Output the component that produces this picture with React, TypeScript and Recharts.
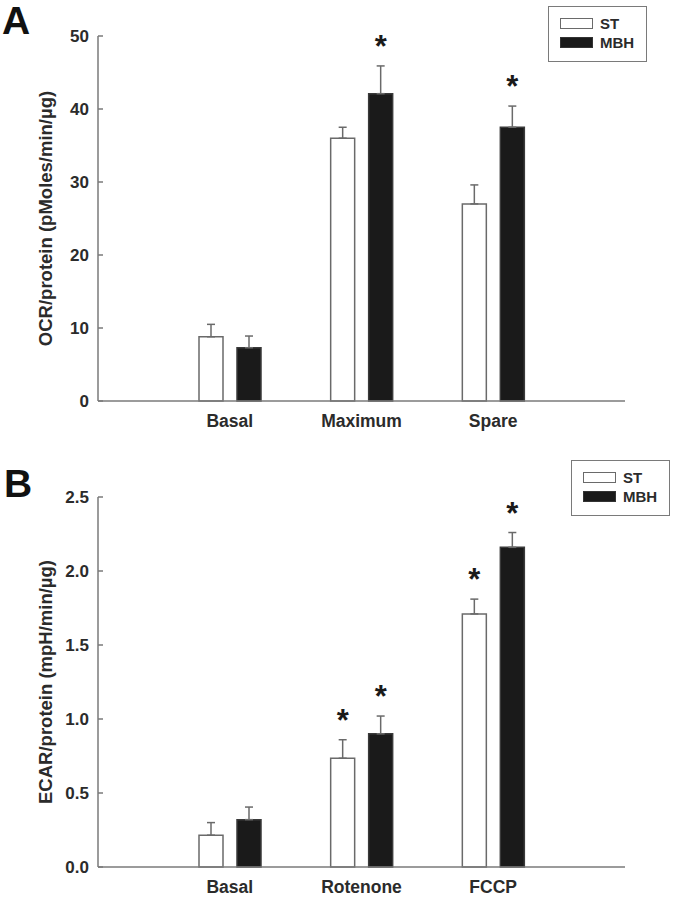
import React from "react";
import {
  BarChart,
  Bar,
  XAxis,
  YAxis,
  ErrorBar,
  LabelList,
  Legend,
} from "recharts";

// panel A – oxygen consumption
const categoriesA = ["Basal", "Maximum", "Spare"];
const stA = [8.8, 36.0, 27.0];
const stErrA = [1.7, 1.5, 2.6];
const mbhA = [7.3, 42.1, 37.5];
const mbhErrA = [1.6, 3.8, 2.9];
const sigStA = [false, false, false];
const sigMbhA = [false, true, true];
const ticksA = [0, 10, 20, 30, 40, 50];

// panel B – extracellular acidification
const categoriesB = ["Basal", "Rotenone", "FCCP"];
const stB = [0.215, 0.735, 1.71];
const stErrB = [0.085, 0.125, 0.1];
const mbhB = [0.32, 0.9, 2.16];
const mbhErrB = [0.085, 0.12, 0.1];
const sigStB = [false, true, true];
const sigMbhB = [false, true, true];
const ticksB = [0, 0.5, 1.0, 1.5, 2.0, 2.5];

const seriesNames = ["ST", "MBH"];

const FONT = "'Liberation Sans', Arial, Helvetica, sans-serif";
const AXIS = "#7a7a7a";
const TEXT = "#2b2b2b";

const buildRows = (
  cats: string[],
  st: number[],
  stErr: number[],
  mbh: number[],
  mbhErr: number[]
) =>
  cats.map((name, i) => ({
    name,
    st: st[i],
    mbh: mbh[i],
    stErr: [0, stErr[i]],
    mbhErr: [0, mbhErr[i]],
  }));

// asterisk placed above the error bar, using the bar's own pixel scale
const makeStar =
  (flags: boolean[], vals: number[], errs: number[]) => (props: any) => {
    const { x, y, width, height, index } = props;
    if (!flags[index]) return null;
    const pxPerUnit = Number(height) / vals[index];
    const errTop = Number(y) - errs[index] * pxPerUnit;
    const cy = errTop - 26;
    return (
      <text
        key={`star-${index}`}
        x={Number(x) + Number(width) / 2}
        y={cy + 17}
        textAnchor="middle"
        fontSize={31}
        fontWeight="bold"
        fontFamily={FONT}
        fill="#1a1a1a"
      >
        *
      </text>
    );
  };

const LegendBox = ({ payload }: any) => {
  const items = [...(payload || [])].sort(
    (a: any, b: any) => seriesNames.indexOf(a.value) - seriesNames.indexOf(b.value)
  );
  return (
    <div
      style={{
        width: 99,
        height: 56,
        border: `1.5px solid ${AXIS}`,
        boxSizing: "border-box",
        background: "#fff",
        padding: "7px 0 0 11px",
        fontFamily: FONT,
        fontWeight: "bold",
        fontSize: 15,
        color: TEXT,
      }}
    >
      {items.map((entry: any) => {
        const open = entry.value === seriesNames[0];
        return (
          <div
            key={entry.value}
            style={{ display: "flex", alignItems: "center", height: 19 }}
          >
            <span
              style={{
                display: "inline-block",
                width: 33,
                height: 11,
                boxSizing: "border-box",
                background: open ? "#fff" : "#1a1a1a",
                border: `1.5px solid ${open ? "#6a6a6a" : "#333"}`,
                marginRight: 7,
              }}
            />
            {entry.value}
          </div>
        );
      })}
    </div>
  );
};

interface PanelProps {
  rows: any[];
  ticks: number[];
  label: string;
  top: number;
  bottom: number;
  legendPos: { left: number; top: number };
  fmt: (v: number) => string;
  stars: { st: any; mbh: any };
}

const Panel = ({ rows, ticks, label, top, bottom, legendPos, fmt, stars }: PanelProps) => (
  <BarChart
    width={675}
    height={450}
    data={rows}
    margin={{ top, right: 50, left: 0, bottom }}
    barSize={24}
    barGap={14}
  >
    <XAxis
      dataKey="name"
      type="category"
      padding={{ left: 66, right: 66 }}
      tickLine={false}
      tickSize={0}
      tickMargin={14}
      axisLine={{ stroke: AXIS, strokeWidth: 1.5 }}
      tick={{ fontSize: 17.5, fontWeight: "bold", fill: TEXT, fontFamily: FONT }}
      height={30}
    />
    <YAxis
      width={98}
      domain={[ticks[0], ticks[ticks.length - 1]]}
      ticks={ticks}
      interval={0}
      tickSize={-5}
      tickMargin={14}
      tickFormatter={fmt}
      tickLine={{ stroke: AXIS, strokeWidth: 1.5 }}
      axisLine={{ stroke: AXIS, strokeWidth: 1.5 }}
      tick={{ fontSize: 17, fontWeight: "bold", fill: TEXT, fontFamily: FONT }}
      label={{
        value: label,
        angle: -90,
        position: "center",
        dx: -4,
        style: {
          fontSize: 18.5,
          fontWeight: "bold",
          fill: TEXT,
          fontFamily: FONT,
          textAnchor: "middle",
        },
      }}
    />
    <Legend
      layout="horizontal"
      verticalAlign="middle"
      align="center"
      wrapperStyle={{ left: legendPos.left, top: legendPos.top, width: 100 }}
      content={<LegendBox />}
    />
    <Bar
      dataKey="st"
      name={seriesNames[0]}
      fill="#ffffff"
      stroke="#6a6a6a"
      strokeWidth={1.5}
      isAnimationActive={false}
    >
      <ErrorBar dataKey="stErr" direction="y" width={4} stroke="#6a6a6a" strokeWidth={1.5} />
      <LabelList dataKey="name" content={stars.st} />
    </Bar>
    <Bar
      dataKey="mbh"
      name={seriesNames[1]}
      fill="#1a1a1a"
      stroke="#3a3a3a"
      strokeWidth={1.5}
      isAnimationActive={false}
    >
      <ErrorBar dataKey="mbhErr" direction="y" width={4} stroke="#6a6a6a" strokeWidth={1.5} />
      <LabelList dataKey="name" content={stars.mbh} />
    </Bar>
  </BarChart>
);

const panelLetter = (t: string, top: number, left: number) => (
  <div
    style={{
      position: "absolute",
      left,
      top,
      fontFamily: FONT,
      fontWeight: "bold",
      fontSize: 39,
      lineHeight: "39px",
      color: "#111",
    }}
  >
    {t}
  </div>
);

export default function App() {
  const rowsA = buildRows(categoriesA, stA, stErrA, mbhA, mbhErrA);
  const rowsB = buildRows(categoriesB, stB, stErrB, mbhB, mbhErrB);
  return (
    <div
      style={{
        position: "absolute",
        left: 0,
        top: 0,
        width: 675,
        height: 900,
        background: "#fff",
      }}
    >
      <div style={{ position: "absolute", left: 0, top: 0 }}>
        <Panel
          rows={rowsA}
          ticks={ticksA}
          label="OCR/protein (pMoles/min/µg)"
          top={36}
          bottom={19}
          legendPos={{ left: 548, top: 6 }}
          fmt={(v) => String(v)}
          stars={{
            st: makeStar(sigStA, stA, stErrA),
            mbh: makeStar(sigMbhA, mbhA, mbhErrA),
          }}
        />
      </div>
      <div style={{ position: "absolute", left: 0, top: 450 }}>
        <Panel
          rows={rowsB}
          ticks={ticksB}
          label="ECAR/protein (mpH/min/µg)"
          top={47}
          bottom={3}
          legendPos={{ left: 571, top: 10 }}
          fmt={(v) => v.toFixed(1)}
          stars={{
            st: makeStar(sigStB, stB, stErrB),
            mbh: makeStar(sigMbhB, mbhB, mbhErrB),
          }}
        />
      </div>
      {panelLetter("A", 1, 2)}
      {panelLetter("B", 464, 4)}
    </div>
  );
}
